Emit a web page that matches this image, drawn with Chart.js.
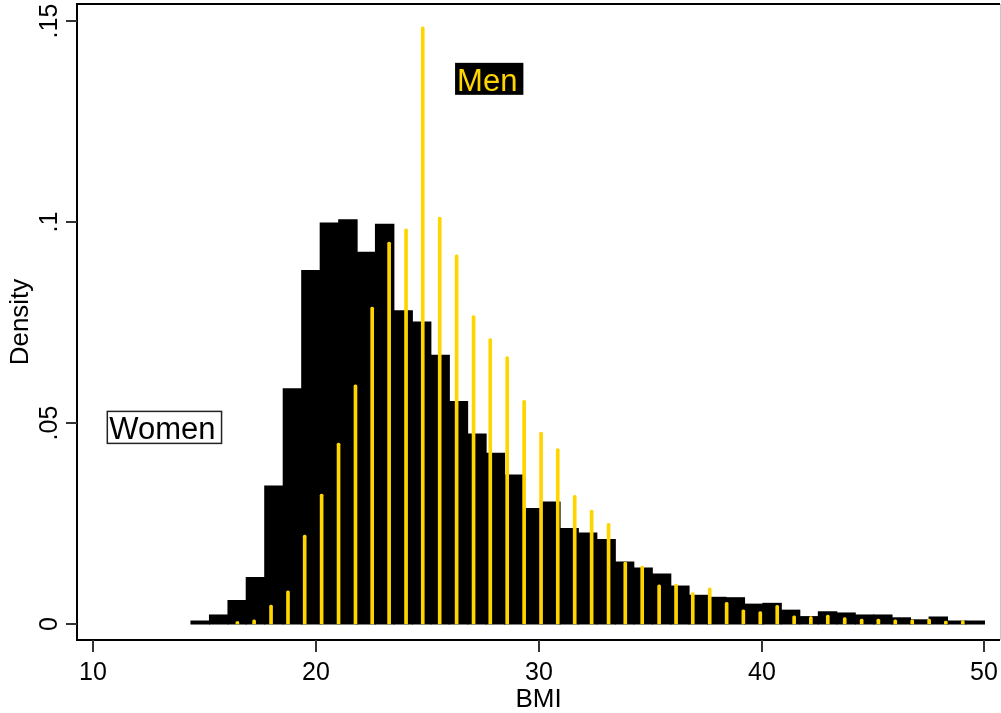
<!DOCTYPE html>
<html>
<head>
<meta charset="utf-8">
<script src="https://cdn.jsdelivr.net/npm/chart.js@4.4.1/dist/chart.umd.min.js"></script>
<style>
  html, body { margin: 0; padding: 0; background: #fff; }
  #wrap { width: 1001px; height: 713px; position: relative; }
</style>
</head>
<body>
<div id="wrap"><canvas id="bmi"></canvas></div>
<script>
// women: bin centres and densities
const womenBins = [14.80, 15.63, 16.46, 17.28, 18.11, 18.94, 19.77, 20.60, 21.43, 22.25,
    23.08, 23.91, 24.74, 25.57, 26.39, 27.22, 28.05, 28.88, 29.71, 30.54,
    31.36, 32.19, 33.02, 33.85, 34.68, 35.51, 36.33, 37.16, 37.99, 38.82,
    39.65, 40.47, 41.30, 42.13, 42.96, 43.79, 44.62, 45.44, 46.27, 47.10,
    47.93, 48.76, 49.59]
const womenDensity = [0.0007, 0.0022, 0.0058, 0.0115, 0.0343, 0.0585, 0.0879, 0.0997, 0.1005, 0.0924,
    0.0994, 0.0779, 0.0751, 0.0668, 0.0553, 0.0472, 0.0424, 0.0370, 0.0287, 0.0303,
    0.0237, 0.0226, 0.0210, 0.0154, 0.0139, 0.0124, 0.0094, 0.0071, 0.0066, 0.0065,
    0.0049, 0.0051, 0.0034, 0.0018, 0.0030, 0.0027, 0.0022, 0.0022, 0.0015, 0.0010,
    0.0017, 0.0007, 0.0007]

// men: bin centres and densities (drawn as thin spikes)
const menBins = [16.47, 17.22, 17.98, 18.74, 19.49, 20.25, 21.01, 21.77, 22.52, 23.28,
    24.04, 24.79, 25.55, 26.31, 27.07, 27.82, 28.58, 29.34, 30.10, 30.85,
    31.61, 32.37, 33.13, 33.88, 34.64, 35.40, 36.16, 36.91, 37.67, 38.43,
    39.18, 39.94, 40.70, 41.46, 42.21, 42.97, 43.73, 44.49, 45.24, 46.00,
    46.76, 47.52, 48.27, 49.03]
const menDensity = [0.0006, 0.0010, 0.0047, 0.0082, 0.0221, 0.0323, 0.0450, 0.0595, 0.0788, 0.0950,
    0.0983, 0.1485, 0.1012, 0.0918, 0.0767, 0.0710, 0.0665, 0.0556, 0.0477, 0.0436,
    0.0320, 0.0283, 0.0250, 0.0154, 0.0144, 0.0097, 0.0099, 0.0078, 0.0090, 0.0054,
    0.0035, 0.0031, 0.0046, 0.0020, 0.0018, 0.0022, 0.0016, 0.0012, 0.0012, 0.0010,
    0.0010, 0.0012, 0.0007, 0.0008]

const xTicks = [10, 20, 30, 40, 50]
const xTickLabels = ["10", "20", "30", "40", "50"]
const yTicks = [0, 0.05, 0.1, 0.15]
const yTickLabels = ["0", ".05", ".1", ".15"]

// text boxes placed in data units (left edge, baseline)
const noteTexts = ["Women", "Men"]
const noteX = [10.72, 26.33]
const noteY = [0.0459, 0.1326]

const GOLD = "rgb(255,213,0)"
const FONT = "'Liberation Sans', Arial, Helvetica, sans-serif"

const toPoints = (xs, ys) => xs.map((v, i) => ({ x: v, y: ys[i] }))

const axesAndNotes = {
    id: "axesAndNotes",
    afterDraw(chart) {
        const ctx = chart.ctx
        const a = chart.chartArea
        const x = chart.scales.x
        const y = chart.scales.y
        ctx.save()

        // frame
        ctx.strokeStyle = "#000"
        ctx.lineWidth = 2
        ctx.beginPath()
        ctx.moveTo(a.right, a.top)
        ctx.lineTo(a.left, a.top)
        ctx.lineTo(a.left, a.bottom)
        ctx.lineTo(a.right, a.bottom)
        ctx.stroke()
        ctx.strokeStyle = "#c8c8c8"
        ctx.lineWidth = 1
        ctx.beginPath()
        ctx.moveTo(a.right + 0.5, a.top)
        ctx.lineTo(a.right + 0.5, a.bottom)
        ctx.stroke()

        // ticks
        ctx.strokeStyle = "#333"
        ctx.lineWidth = 2
        ctx.fillStyle = "#000"
        ctx.font = "25px " + FONT
        xTicks.forEach((v, i) => {
            const px = Math.round(x.getPixelForValue(v))
            ctx.beginPath()
            ctx.moveTo(px, a.bottom)
            ctx.lineTo(px, a.bottom + 12)
            ctx.stroke()
            ctx.textAlign = "center"
            ctx.textBaseline = "alphabetic"
            ctx.fillText(xTickLabels[i], px, a.bottom + 40)
        })
        yTicks.forEach((v, i) => {
            const py = Math.round(y.getPixelForValue(v))
            ctx.beginPath()
            ctx.moveTo(a.left - 11, py)
            ctx.lineTo(a.left, py)
            ctx.stroke()
            ctx.save()
            ctx.translate(a.left - 20, py)
            ctx.rotate(-Math.PI / 2)
            ctx.textAlign = "center"
            ctx.textBaseline = "alphabetic"
            ctx.fillText(yTickLabels[i], 0, 0)
            ctx.restore()
        })

        // axis titles
        ctx.font = "26px " + FONT
        ctx.textAlign = "center"
        ctx.fillText("BMI", (a.left + a.right) / 2, a.bottom + 67)
        ctx.save()
        ctx.translate(a.left - 49, (a.top + a.bottom) / 2)
        ctx.rotate(-Math.PI / 2)
        ctx.fillText("Density", 0, 0)
        ctx.restore()

        // boxed notes
        ctx.font = "31px " + FONT
        ctx.textAlign = "left"
        noteTexts.forEach((t, i) => {
            const px = x.getPixelForValue(noteX[i])
            const py = y.getPixelForValue(noteY[i])
            const w = ctx.measureText(t).width
            const bx = px - 2, by = py - 28, bw = w + 8, bh = 32
            if (t === "Men") {
                ctx.fillStyle = "#000"
                ctx.fillRect(bx, by, bw, bh)
                ctx.fillStyle = GOLD
            } else {
                ctx.fillStyle = "#fff"
                ctx.fillRect(bx, by, bw, bh)
                ctx.strokeStyle = "#222"
                ctx.lineWidth = 1.5
                ctx.strokeRect(bx, by, bw, bh)
                ctx.fillStyle = "#000"
            }
            ctx.fillText(t, px, py)
        })
        ctx.restore()
    }
}

new Chart(document.getElementById("bmi"), {
    type: "bar",
    data: {
        datasets: [{
            label: "Men",
            data: toPoints(menBins, menDensity),
            xAxisID: "x2",
            backgroundColor: GOLD,
            barThickness: 3,
            borderRadius: 1.5,
            borderSkipped: "bottom",
            grouped: false,
            order: 1
        }, {
            label: "Women",
            data: toPoints(womenBins, womenDensity),
            xAxisID: "x",
            backgroundColor: "#000",
            categoryPercentage: 1,
            barPercentage: 1,
            inflateAmount: 0.6,
            grouped: false,
            order: 2
        }]
    },
    options: {
        responsive: true,
        maintainAspectRatio: false,
        devicePixelRatio: 1,
        animation: false,
        layout: { padding: { left: 77, top: 4, right: 1, bottom: 73 } },
        plugins: {
            legend: { display: false },
            tooltip: { enabled: false }
        },
        scales: {
            x: {
                type: "linear",
                min: 9.27,
                max: 50.7,
                offset: false,
                display: false,
                afterBuildTicks: s => { s.ticks = xTicks.map(v => ({ value: v })) }
            },
            x2: {
                type: "linear",
                min: 9.27,
                max: 50.7,
                offset: false,
                display: false
            },
            y: {
                type: "linear",
                min: -0.004,
                max: 0.1542,
                display: false
            }
        }
    },
    plugins: [axesAndNotes]
});
</script>
</body>
</html>
